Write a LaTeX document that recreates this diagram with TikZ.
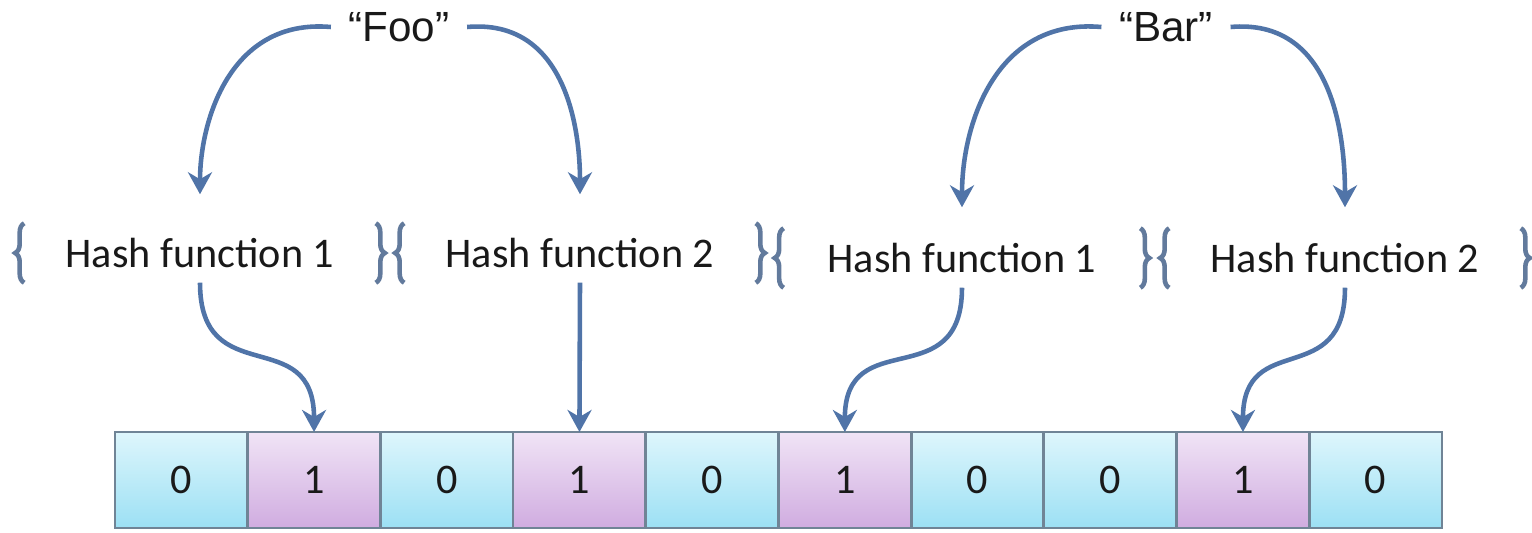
\documentclass[tikz,border=0pt]{standalone}
\usepackage{fontspec}
\setmainfont{Carlito}
\newfontfamily\arialfont{Liberation Sans}
\usepackage{tikz}
\usetikzlibrary{arrows.meta,decorations.pathreplacing}

\definecolor{linkblue}{RGB}{80,116,168}
\definecolor{bracegray}{RGB}{98,122,156}
\definecolor{celledge}{RGB}{112,132,150}
\definecolor{zerotop}{RGB}{222,246,252}
\definecolor{zerobot}{RGB}{156,224,244}
\definecolor{onetop}{RGB}{240,228,246}
\definecolor{onebot}{RGB}{208,172,224}
\definecolor{inktext}{RGB}{25,25,25}

\begin{document}
\begin{tikzpicture}[x=0.01cm,y=-0.01cm,>={Stealth[length=2.2mm,width=2.4mm,inset=0.7mm]},
  keyword/.style={font=\arialfont\fontsize{12}{14}\selectfont,text=inktext,inner xsep=0.17cm},
  hashfn/.style={font=\fontsize{12}{14}\selectfont,text=inktext,minimum width=3.5cm,minimum height=0.58cm,inner sep=0pt},
  hbrace/.style={draw=bracegray,line width=1.3pt,decorate,decoration={brace,amplitude=0.09cm}},
  link/.style={->,draw=linkblue,line width=1.3pt},
  bitzero/.style={draw=celledge,line width=0.8pt,top color=zerotop,bottom color=zerobot,minimum width=1.327cm,minimum height=0.96cm,outer sep=0pt,font=\fontsize{12}{14}\selectfont,text=inktext},
  bitone/.style={bitzero,top color=onetop,bottom color=onebot}]
\useasboundingbox (0,0) rectangle (1532,533);

% keys
\node[keyword] (foo) at (399,27) {“Foo”};
\node[keyword] (bar) at (1166,27) {“Bar”};

% hash functions
\node[hashfn] (h1) at (200,253) {Hash function 1};
\node[hashfn] (h2) at (580,253) {Hash function 2};
\node[hashfn,minimum width=3.55cm] (h3) at (962,258) {Hash function 1};
\node[hashfn] (h4) at (1345,258) {Hash function 2};
\draw[hbrace] (h1.south west)--(h1.north west);
\draw[hbrace] (h1.north east)--(h1.south east);
\draw[hbrace] (h2.south west)--(h2.north west);
\draw[hbrace] (h2.north east)--(h2.south east);
\draw[hbrace] (h3.south west)--(h3.north west);
\draw[hbrace] (h3.north east)--(h3.south east);
\draw[hbrace] (h4.south west)--(h4.north west);
\draw[hbrace] (h4.north east)--(h4.south east);

% bit array
\node[bitzero] (c0) at (181.35,480) {0};
\node[bitone] (c1) at (314.05,480) {1};
\node[bitzero] (c2) at (446.75,480) {0};
\node[bitone] (c3) at (579.45,480) {1};
\node[bitzero] (c4) at (712.15,480) {0};
\node[bitone] (c5) at (844.85,480) {1};
\node[bitzero] (c6) at (977.55,480) {0};
\node[bitzero] (c7) at (1110.25,480) {0};
\node[bitone] (c8) at (1242.95,480) {1};
\node[bitzero] (c9) at (1375.65,480) {0};

% key -> hash functions
\draw[link,shorten >=0.29cm] (foo.west) to[out=175,in=90,looseness=1.1] (h1.north);
\draw[link,shorten >=0.29cm] (foo.east) to[out=5,in=90,looseness=1.1] (h2.north);
\draw[link,shorten >=0.21cm] (bar.west) to[out=175,in=90,looseness=1.1] (h3.north);
\draw[link,shorten >=0.21cm] (bar.east) to[out=5,in=90,looseness=1.1] (h4.north);

% hash functions -> bits
\draw[link] (h1.south) to[out=-90,in=90,looseness=1.5] (c1.north);
\draw[link] (h2.south)--(c3.north);
\draw[link] (h3.south) to[out=-90,in=90,looseness=1.5] (c5.north);
\draw[link] (h4.south) to[out=-90,in=90,looseness=1.5] (c8.north);
\end{tikzpicture}
\end{document}
